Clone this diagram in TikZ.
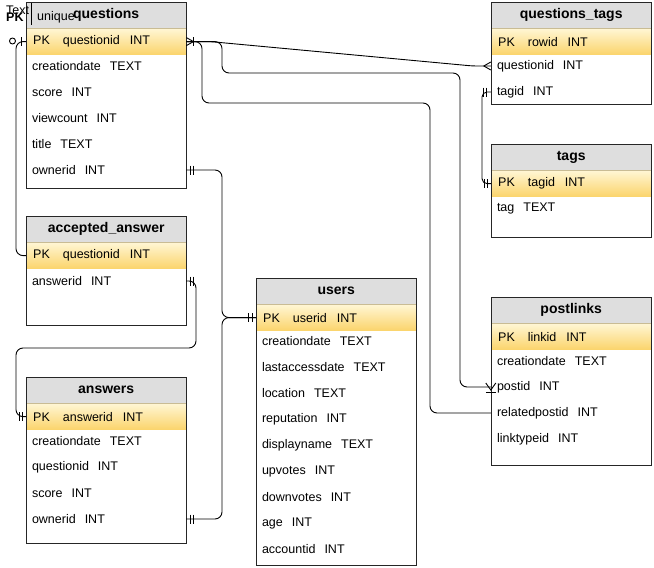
\documentclass[tikz,border=0pt]{standalone}
\usepackage{fontspec}
\setmainfont{Liberation Sans}
\usetikzlibrary{positioning}
\usetikzlibrary{calc}
\definecolor{headgray}{HTML}{DEDEDE}
\definecolor{pktop}{HTML}{FFF6D4}
\definecolor{pkbot}{HTML}{FBD46C}
\definecolor{pkline}{HTML}{C9BC94}
\tikzset{
  tbl_head/.style = {anchor=north west, fill=headgray, minimum width=160pt,
    minimum height=26pt, inner sep=0pt, font=\fontsize{14}{16}\selectfont\bfseries},% titre de table
  tbl_pk/.style = {top color=pktop, bottom color=pkbot, minimum width=160pt,
    minimum height=26pt, text width=146pt, inner xsep=7pt, inner ysep=0pt,
    align=left, font=\fontsize{12.5}{15}\selectfont},% ligne cle primaire
  tbl_field/.style = {minimum width=160pt, minimum height=20pt, text width=148pt,
    inner xsep=6pt, inner ysep=0pt, align=left, font=\fontsize{12.5}{15}\selectfont},% champ
  tbl_frame/.style = {draw=black!85, line width=1pt},
  conn/.style = {draw=black, line width=0.9pt, rounded corners=7pt},
  crowfoot/.pic = {\draw[line width=0.9pt] (0,-4) -- (7,0) -- (0,4);},
  onebar/.pic = {\draw[line width=0.9pt] (0,-4.5) -- (0,4.5);},
  crowdown/.pic = {\draw[line width=0.9pt] (-5,-6) -- (0,1) -- (5,-6);
    \draw[line width=0.9pt] (-5,3) -- (5,3);}
}

\begin{document}
\begin{tikzpicture}[x=1pt, y=-1pt]
  \useasboundingbox (0,0) rectangle (654,568);

  % questions
  \node [tbl_head] (q) at (26,2) {questions};
  \node [tbl_pk, below=0pt of q] (q_pk) {PK\hspace{13pt}questionid\hspace{10pt}INT};
  \foreach \f/\t [count=\i, evaluate=\i as \yy using 40+26*\i] in
    {creationdate/TEXT, score/INT, viewcount/INT, title/TEXT, ownerid/INT}
    \node [tbl_field] (q_\i) at (106,\yy) {\f\hspace{9pt}\t};
  \draw [pkline] (q.south west) -- (q.south east);
  \draw [tbl_frame] (q.north west) rectangle ++(160,186);

  % restes superposes en haut a gauche
  \node [anchor=west, inner sep=0pt, font=\fontsize{12.5}{15}\selectfont] (stray_text) at (6,10) {Text};
  \node [anchor=west, inner sep=0pt, font=\fontsize{12.5}{15}\selectfont\bfseries] (stray_pk) at (6,17) {PK};
  \node [anchor=west, inner sep=0pt, font=\fontsize{12.5}{15}\selectfont] (stray_unique) at (37,17) {unique};
  \draw [line width=0.9pt] (31,3) coordinate (stray_top) -- (31,25) coordinate (stray_bot);

  % accepted_answer
  \node [tbl_head] (aa) at (26,216) {accepted\_answer};
  \node [tbl_pk, below=0pt of aa] (aa_pk) {PK\hspace{13pt}questionid\hspace{10pt}INT};
  \node [tbl_field] (aa_1) at (106,281) {answerid\hspace{9pt}INT};
  \draw [pkline] (aa.south west) -- (aa.south east);
  \draw [tbl_frame] (aa.north west) rectangle ++(160,109);

  % answers
  \node [tbl_head] (ans) at (26,377) {answers};
  \node [tbl_pk, below=0pt of ans] (ans_pk) {PK\hspace{13pt}answerid\hspace{10pt}INT};
  \foreach \f/\t [count=\i, evaluate=\i as \yy using 415+26*\i] in
    {creationdate/TEXT, questionid/INT, score/INT, ownerid/INT}
    \node [tbl_field] (ans_\i) at (106,\yy) {\f\hspace{9pt}\t};
  \draw [pkline] (ans.south west) -- (ans.south east);
  \draw [tbl_frame] (ans.north west) rectangle ++(160,166);

  % users
  \node [tbl_head] (u) at (256,278) {users};
  \node [tbl_pk, below=0pt of u] (u_pk) {PK\hspace{13pt}userid\hspace{10pt}INT};
  \foreach \f/\t [count=\i, evaluate=\i as \yy using 315+26*\i] in
    {creationdate/TEXT, lastaccessdate/TEXT, location/TEXT, reputation/INT,
     displayname/TEXT, upvotes/INT, downvotes/INT, age/INT, accountid/INT}
    \node [tbl_field] (u_\i) at (336,\yy) {\f\hspace{9pt}\t};
  \draw [pkline] (u.south west) -- (u.south east);
  \draw [tbl_frame] (u.north west) rectangle ++(160,287);

  % questions_tags
  \node [tbl_head] (qt) at (491,2) {questions\_tags};
  \node [tbl_pk, below=0pt of qt] (qt_pk) {PK\hspace{13pt}rowid\hspace{10pt}INT};
  \foreach \f/\t [count=\i, evaluate=\i as \yy using 40+26*\i] in
    {questionid/INT, tagid/INT}
    \node [tbl_field] (qt_\i) at (571,\yy) {\f\hspace{9pt}\t};
  \draw [pkline] (qt.south west) -- (qt.south east);
  \draw [tbl_frame] (qt.north west) rectangle ++(160,102);

  % tags
  \node [tbl_head] (tg) at (491,144) {tags};
  \node [tbl_pk, below=0pt of tg] (tg_pk) {PK\hspace{13pt}tagid\hspace{10pt}INT};
  \node [tbl_field] (tg_1) at (571,208) {tag\hspace{9pt}TEXT};
  \draw [pkline] (tg.south west) -- (tg.south east);
  \draw [tbl_frame] (tg.north west) rectangle ++(160,93);

  % postlinks
  \node [tbl_head] (pl) at (491,297) {postlinks};
  \node [tbl_pk, below=0pt of pl] (pl_pk) {PK\hspace{13pt}linkid\hspace{10pt}INT};
  \foreach \f/\t [count=\i, evaluate=\i as \yy using 335+26*\i] in
    {creationdate/TEXT, postid/INT, relatedpostid/INT, linktypeid/INT}
    \node [tbl_field] (pl_\i) at (571,\yy) {\f\hspace{9pt}\t};
  \draw [pkline] (pl.south west) -- (pl.south east);
  \draw [tbl_frame] (pl.north west) rectangle ++(160,168);

  % liens
  \draw [conn, rounded corners=4pt] (q_pk.east) -- ++(24,0)
    -- ($(qt_1.west)+(-18,0)$) -- (qt_1.west);
  \draw [conn] (q_pk.east) -- (222,0 |- q_pk.east) -- (222,73) -- (460,73)
    -- (460,0 |- pl_2.west) -- (pl_2.west);
  \draw [conn] (q_pk.east) -- (202,0 |- q_pk.east) -- (202,103) -- (430,103)
    -- (430,0 |- pl_3.west) -- (pl_3.west);
  \draw [conn] (q_pk.west) -- (16,0 |- q_pk.west) [rounded corners=7pt]
    -- (16,0 |- aa_pk.west) -- (aa_pk.west);
  \draw [conn] (q_5.east) -- (222,0 |- q_5.east) -- (222,0 |- u_pk.west) -- (u_pk.west);
  \draw [conn] (ans_4.east) -- (222,0 |- ans_4.east) -- (222,0 |- u_pk.west) -- (u_pk.west);
  \draw [conn] (aa_1.east) -- (196,0 |- aa_1.east) -- (196,348) -- (16,348)
    -- (16,0 |- ans_pk.west) -- (ans_pk.west);
  \draw [conn, rounded corners=5pt] (qt_2.west) -- (482,0 |- qt_2.west)
    -- (482,0 |- tg_pk.west) -- (tg_pk.west);

  % cardinalites
  \pic at (q_pk.east) {crowfoot};
  \pic at ([xshift=7pt]q_pk.east) {onebar};
  \pic [xscale=-1] at (qt_1.west) {crowfoot};
  \pic at ([yshift=-2pt]pl_2.west) {crowdown};
  \draw [line width=0.9pt, fill=white] (12.5,41) circle (3pt);
  \pic at ([xshift=-5pt]q_pk.west) {onebar};
  \foreach \s in {4,7} {
    \pic at ([xshift=\s pt]q_5.east) {onebar};
    \pic at ([xshift=\s pt]ans_4.east) {onebar};
    \pic at ([xshift=\s pt]aa_1.east) {onebar};
    \pic at ([xshift=-\s pt]ans_pk.west) {onebar};
    \pic at ([xshift=-\s pt]qt_2.west) {onebar};
    \pic at ([xshift=-\s pt]tg_pk.west) {onebar};
  }
  \foreach \s in {4,8}
    \pic at ([xshift=-\s pt]u_pk.west) {onebar};
\end{tikzpicture}
\end{document}
